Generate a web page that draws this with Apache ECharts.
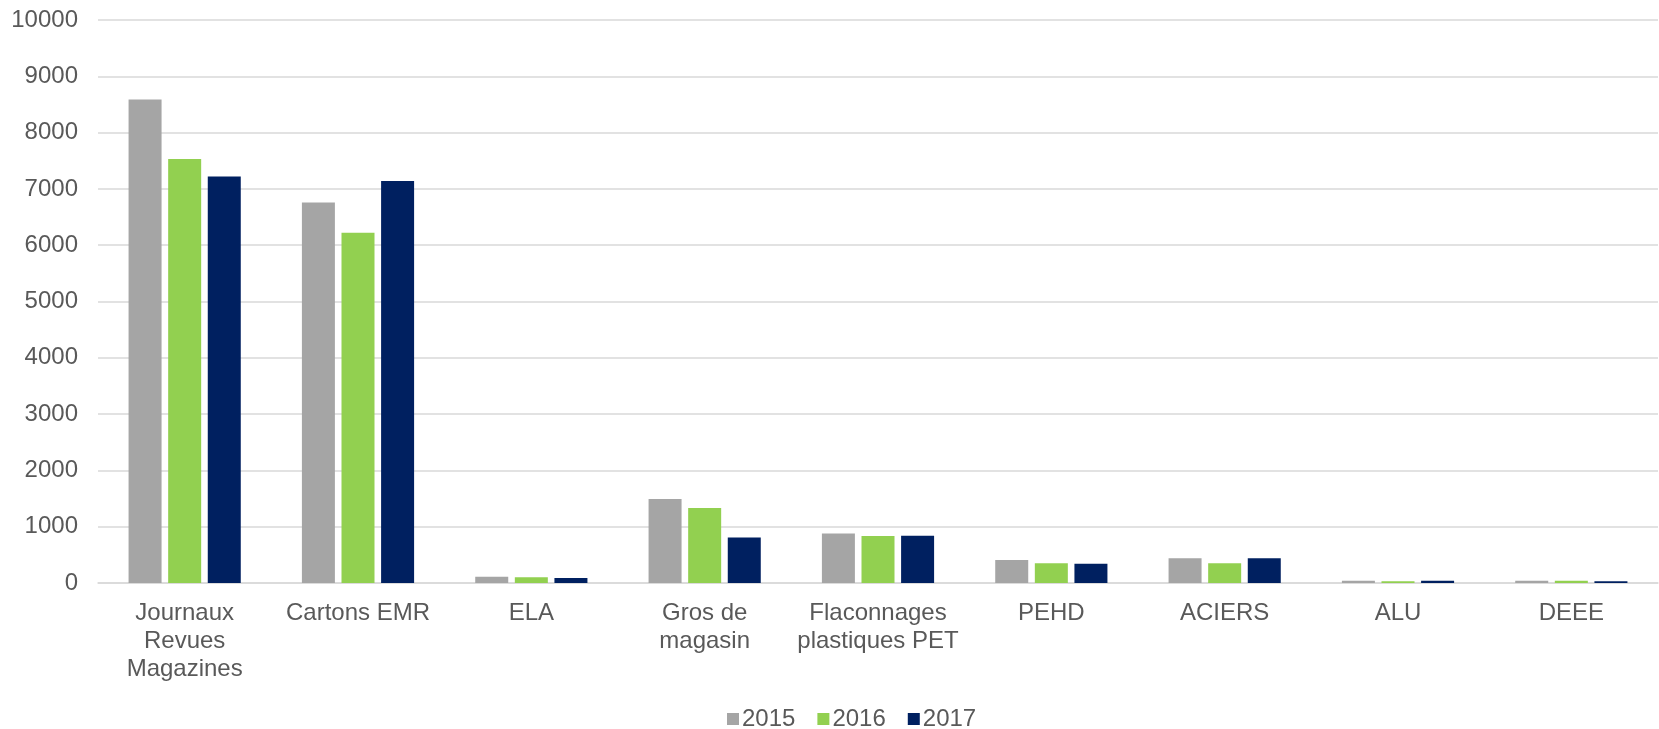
<!DOCTYPE html>
<html>
<head>
<meta charset="utf-8">
<script src="https://cdn.jsdelivr.net/npm/echarts@6/dist/echarts.min.js"></script>
<style>
html,body{margin:0;padding:0;background:#fff;}
#c{width:1659px;height:729px;}
</style>
</head>
<body>
<div id="c"></div>
<script>
const categories = ['Journaux\nRevues\nMagazines', 'Cartons EMR', 'ELA', 'Gros de\nmagasin', 'Flaconnages\nplastiques PET', 'PEHD', 'ACIERS', 'ALU', 'DEEE'];
const seriesNames = ['2015', '2016', '2017'];
const values2015 = [8590, 6760, 110, 1490, 880, 410, 440, 40, 40];
const values2016 = [7530, 6220, 100, 1330, 835, 350, 350, 30, 40];
const values2017 = [7220, 7140, 90, 810, 840, 340, 440, 40, 30];
const yTicks = {min: 0, max: 10000, interval: 1000};

const colors = ['#a5a5a5', '#92d050', '#002060'];
const font = 'Liberation Sans, Arial, sans-serif';
const chart = echarts.init(document.getElementById('c'));
const data = [values2015, values2016, values2017];
chart.setOption({
  animation: false,
  color: colors,
  grid: {left: 98, right: 1, top: 20, bottom: 146, containLabel: false},
  legend: {
    left: 722, top: 702,
    itemWidth: 12, itemHeight: 12, itemGap: 22,
    icon: 'rect',
    textStyle: {fontSize: 24, color: '#595959', fontFamily: font, padding: [0, 0, 0, -2]},
    data: seriesNames
  },
  xAxis: {
    type: 'category',
    data: categories,
    axisTick: {show: false},
    axisLine: {lineStyle: {color: '#d9d9d9', width: 1.5}},
    axisLabel: {interval: 0, fontSize: 24, lineHeight: 28, color: '#595959', fontFamily: font, margin: 16}
  },
  yAxis: {
    type: 'value',
    min: yTicks.min, max: yTicks.max, interval: yTicks.interval,
    axisLine: {show: false},
    axisTick: {show: false},
    splitLine: {lineStyle: {color: '#d9d9d9', width: 1.5}},
    axisLabel: {fontSize: 24, color: '#595959', fontFamily: font, margin: 20, formatter: v => String(v)}
  },
  series: seriesNames.map((n, i) => ({
    name: n,
    type: 'bar',
    data: data[i],
    barWidth: 33,
    barGap: '20%'
  }))
});
</script>
</body>
</html>
